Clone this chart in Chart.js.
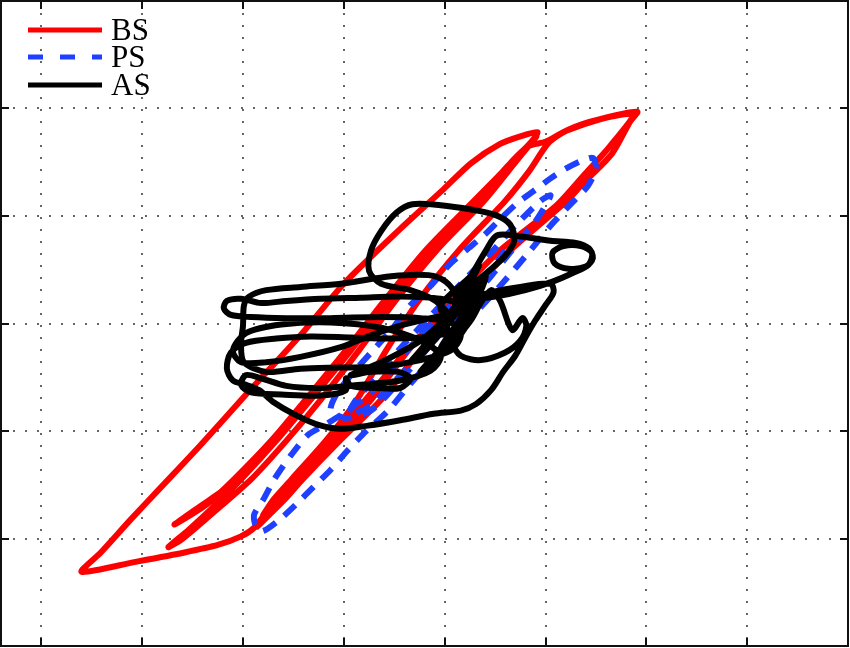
<!DOCTYPE html>
<html>
<head>
<meta charset="utf-8">
<script src="https://cdn.jsdelivr.net/npm/chart.js@4/dist/chart.umd.min.js"></script>
<style>
    html, body { margin: 0; padding: 0; background: #fff; }
    #wrap { position: relative; width: 850px; height: 648px; }
    .leg { position: absolute; left: 28px; height: 30px; line-height: 30px; white-space: nowrap;
           font-family: "Liberation Serif", "DejaVu Serif", serif; font-size: 31px; color: #000; }
    .leg svg { position: absolute; left: 0; top: 12px; }
    .leg span { position: absolute; left: 83px; top: 0; }
</style>
</head>
<body>
<div id="wrap">
    <canvas id="chart" width="850" height="648"></canvas>
    <div class="leg" style="top:15px">
        <svg width="76" height="6"><line x1="0" y1="3" x2="74" y2="3" stroke="#ff0000" stroke-width="5"/></svg>
        <span>BS</span>
    </div>
    <div class="leg" style="top:42px">
        <svg width="76" height="6"><line x1="0" y1="3" x2="74" y2="3" stroke="#2040ff" stroke-width="5" stroke-dasharray="15 17"/></svg>
        <span>PS</span>
    </div>
    <div class="leg" style="top:70px">
        <svg width="76" height="6"><line x1="0" y1="3" x2="74" y2="3" stroke="#000" stroke-width="5"/></svg>
        <span>AS</span>
    </div>
</div>
<script>

/* =======================
   DATA
======================= */

const xTicks = [-4, -3, -2, -1, 0, 1, 2, 3];
const yTicks = [-2, -1, 0, 1, 2];

// BS
const bsX = [
    -0.04, -0.44, -0.83, -1.13, -1.43, -1.62, -1.75, -1.89, -2.02, -2.25, -2.58, -3.08, -3.60,
    -3.41, -3.11, -2.81, -2.42, -1.95, -1.43, -1.00, -0.44, -0.01, 0.26, 0.55, 0.75, 0.92,
    0.85, 0.67, 0.34, -0.14, -0.55, -0.93, -1.33, -1.66, -2.02, -2.32, -2.54, -2.74,
    -2.61, -2.37, -1.92, -1.56, -1.23, -0.85, -0.49, -0.08, 0.39, 0.71, 0.91,
    0.77, 0.29, -0.19, -0.60, -0.98, -1.38, -1.71, -2.09, -2.37, -2.68,
    -2.47, -2.05, -1.68, -1.35, -0.95, -0.57, -0.16, 0.32, 0.62, 0.83, 1.00, 1.20, 1.54, 1.91,
    1.84, 1.66, 1.37, 1.21, 0.65, 0.18, -0.24, -0.63, -1.03, -1.41, -1.57, -1.74, -1.86,
    -1.72, -1.48, -1.09, -0.73, -0.36, 0.06, 0.55, 1.10, 1.40, 1.64, 1.86,
    1.54, 1.22, 1.03, 0.84, 0.60, 0.14, -0.26, -0.58, -0.87, -1.17, -1.52, -1.70, -1.80
];
const bsY = [
    0.07, -0.32, -0.76, -1.06, -1.36, -1.57, -1.73, -1.90, -1.98, -2.06, -2.13, -2.22, -2.31,
    -2.13, -1.82, -1.52, -1.13, -0.64, -0.11, 0.37, 0.88, 1.25, 1.49, 1.67, 1.74, 1.78,
    1.68, 1.51, 1.14, 0.68, 0.21, -0.25, -0.71, -1.08, -1.45, -1.73, -1.92, -2.08,
    -2.01, -1.82, -1.45, -1.08, -0.71, -0.25, 0.21, 0.68, 1.14, 1.51, 1.74,
    1.60, 1.14, 0.68, 0.21, -0.25, -0.71, -1.08, -1.45, -1.69, -1.87,
    -1.73, -1.45, -1.08, -0.71, -0.25, 0.21, 0.68, 1.14, 1.46, 1.65, 1.69, 1.79, 1.90, 1.97,
    1.88, 1.58, 1.30, 1.14, 0.68, 0.21, -0.25, -0.71, -1.08, -1.45, -1.62, -1.78, -1.89,
    -1.75, -1.45, -1.08, -0.71, -0.25, 0.21, 0.68, 1.09, 1.40, 1.65, 1.94,
    1.90, 1.80, 1.68, 1.42, 1.14, 0.68, 0.21, -0.25, -0.71, -1.08, -1.45, -1.64, -1.78
];

// PS
const psX = [
    0.06, -0.24, -0.49, -0.73, -0.98, -1.18, -1.36, -1.52, -1.69, -1.80, -1.89, -1.87, -1.80,
    -1.62, -1.46, -1.30, -1.13, -0.96, -0.80, -0.56, -0.34, -0.04, 0.26, 0.55, 0.85, 1.05, 1.25, 1.42, 1.50, 1.47,
    1.35, 1.20, 1.05, 0.85, 0.72, 0.55, 0.39, 0.21, 0.06, -0.14, -0.34, -0.53, -0.73, -0.93, -1.08, -1.13,
    -0.98, -0.73, -0.44, -0.14, 0.16, 0.46, 0.70, 0.90, 1.05,
    0.95, 0.70, 0.46, 0.16, -0.14, -0.44, -0.68, -0.88, -0.95,
    -0.73, -0.44, -0.14, 0.16, 0.41, 0.60
];
const psY = [
    0.17, -0.11, -0.39, -0.64, -0.82, -0.94, -1.04, -1.22, -1.45, -1.64, -1.78, -1.89, -1.93,
    -1.81, -1.67, -1.52, -1.36, -1.18, -1.02, -0.81, -0.56, -0.25, 0.05, 0.35, 0.68, 0.91, 1.11, 1.28, 1.44, 1.54,
    1.51, 1.44, 1.35, 1.21, 1.12, 0.97, 0.82, 0.68, 0.56, 0.35, 0.17, -0.06, -0.27, -0.48, -0.67, -0.81,
    -0.88, -0.81, -0.53, -0.20, 0.12, 0.44, 0.72, 0.95, 1.19,
    1.14, 0.91, 0.66, 0.37, 0.07, -0.23, -0.51, -0.71, -0.85,
    -0.76, -0.48, -0.18, 0.17, 0.44, 0.68
];

// AS
const asX = [
    0.06, -0.09, -0.34, -0.63, -0.75, -0.73, -0.63, -0.48, -0.32, -0.04, 0.26, 0.50, 0.65, 0.69, 0.60, 0.44, 0.26, 0.11,
    0.26, 0.41, 0.52, 0.75, 1.05, 1.30, 1.43, 1.47, 1.40, 1.23, 1.09, 1.07, 1.18, 1.35, 1.46, 1.43, 1.27, 1.07, 0.80, 0.50, 0.26, 0.46, 0.75, 1.05,
    1.08, 1.00, 0.90, 0.80, 0.70, 0.58, 0.46, 0.31, 0.16, -0.11, -0.44, -0.76, -1.03, -1.26, -1.50, -1.70, -1.84,
    -1.97, -2.10, -2.16, -2.12, -1.97, -1.67, -1.33, -0.93, -0.53, -0.14, 0.11,
    0.26, 0.16, -0.04, -0.44, -0.83, -1.23, -1.57, -1.82, -2.02, -2.16, -2.19, -2.12, -1.92, -1.57, -1.13, -0.63, -0.24, 0.06,
    0.16, 0.06, -0.24, -0.63, -1.03, -1.43, -1.77, -1.99, -2.02, -2.00, -1.99, -1.94, -1.77, -1.43, -1.03, -0.53, -0.16, 0.01, 0.11,
    0.06, -0.14, -0.44, -0.73, -1.03, -1.43, -1.77, -2.02, -2.10, -1.97, -1.62, -1.13, -0.63, -0.24, -0.04, -0.14, -0.44, -0.83, -1.23, -1.57, -1.82, -1.97, -2.02, -1.92, -1.62, -1.23, -0.98,
    -0.98, -0.93, -0.68, -0.44, -0.34, -0.46, -0.73, -0.93, -0.63, -0.24, 0.01, 0.21, 0.36, 0.26, 0.11, -0.04, 0.11, 0.31, 0.46, 0.55, 0.67, 0.77, 0.81, 0.75, 0.60, 0.36, 0.16, 0.06, 0.01, -0.04,
    0.26, 0.34, 0.21, -0.04, -0.24, -0.34, -0.19, 0.06, 0.26, 0.41, 0.31, 0.11, -0.14, -0.24, -0.04, 0.21, 0.36, 0.26, 0.06
];
const asY = [
    0.07, 0.21, 0.31, 0.37, 0.49, 0.68, 0.86, 1.03, 1.11, 1.10, 1.06, 1.01, 0.92, 0.77, 0.63, 0.49, 0.35, 0.21,
    0.44, 0.68, 0.82, 0.81, 0.77, 0.75, 0.70, 0.61, 0.53, 0.51, 0.56, 0.66, 0.72, 0.72, 0.66, 0.55, 0.47, 0.39, 0.31, 0.25, 0.23, 0.29, 0.34, 0.37,
    0.29, 0.17, 0.03, -0.13, -0.30, -0.45, -0.62, -0.75, -0.81, -0.84, -0.90, -0.95, -0.98, -0.94, -0.84, -0.73, -0.62,
    -0.57, -0.53, -0.42, -0.27, -0.18, -0.14, -0.12, -0.13, -0.14, -0.12, -0.06,
    0.05, 0.17, 0.23, 0.25, 0.24, 0.23, 0.21, 0.19, 0.23, 0.21, 0.14, 0.08, 0.06, 0.05, 0.05, 0.06, 0.05, 0.01,
    -0.11, -0.25, -0.34, -0.40, -0.41, -0.42, -0.45, -0.36, -0.20, -0.02, 0.17, 0.25, 0.31, 0.34, 0.37, 0.44, 0.45, 0.39, 0.26,
    0.10, 0.05, -0.02, -0.11, -0.22, -0.31, -0.36, -0.36, -0.25, -0.09, -0.01, 0.01, -0.04, -0.16, -0.30, -0.44, -0.53, -0.57, -0.60, -0.58, -0.51, -0.48, -0.57, -0.64, -0.66, -0.67, -0.62,
    -0.51, -0.58, -0.60, -0.60, -0.51, -0.45, -0.45, -0.48, -0.36, -0.16, 0.05, 0.26, 0.42, 0.21, -0.02, -0.23, -0.16, 0.12, 0.31, 0.21, -0.06, 0.05, -0.02, -0.16, -0.27, -0.34, -0.30, -0.16, 0.03, 0.17,
    0.44, 0.54, 0.31, -0.02, -0.25, -0.36, -0.25, 0.03, 0.26, 0.44, 0.21, -0.06, -0.34, -0.45, -0.30, -0.02, 0.21, 0.03, -0.20
];

function points(xs, ys) {
    return xs.map((x, i) => ({ x, y: ys[i] }));
}

/* =======================
   FRAME + INNER TICKS
======================= */

const innerTicks = {
    id: "innerTicks",
    afterDraw(chart) {
        const { ctx, chartArea: a, scales: { x, y } } = chart;
        ctx.save();
        ctx.strokeStyle = "#111";
        ctx.lineWidth = 2;
        ctx.beginPath();
        xTicks.forEach(v => {
            const px = Math.round(x.getPixelForValue(v));
            ctx.moveTo(px, a.top);
            ctx.lineTo(px, a.top + 8);
            ctx.moveTo(px, a.bottom);
            ctx.lineTo(px, a.bottom - 8);
        });
        yTicks.forEach(v => {
            const py = Math.round(y.getPixelForValue(v));
            ctx.moveTo(a.left, py);
            ctx.lineTo(a.left + 8, py);
            ctx.moveTo(a.right, py);
            ctx.lineTo(a.right - 8, py);
        });
        ctx.stroke();
        ctx.strokeRect(a.left, a.top, a.right - a.left, a.bottom - a.top);
        ctx.restore();
    }
};

const gridOpts = { color: "#666", lineWidth: 2, drawTicks: false };
const borderOpts = { display: false, dash: [2, 10] };

new Chart(document.getElementById("chart"), {
    type: "scatter",
    data: {
        datasets: [
            {
                label: "BS",
                data: points(bsX, bsY),
                showLine: true,
                borderColor: "#ff0000",
                borderWidth: 6,
                pointRadius: 0,
                tension: 0.25,
                borderJoinStyle: "round",
                borderCapStyle: "round",
                order: 3
            },
            {
                label: "PS",
                data: points(psX, psY),
                showLine: true,
                borderColor: "#2040ff",
                borderWidth: 6,
                borderDash: [15, 11],
                pointRadius: 0,
                tension: 0.25,
                borderJoinStyle: "round",
                order: 2
            },
            {
                label: "AS",
                data: points(asX, asY),
                showLine: true,
                borderColor: "#000000",
                borderWidth: 6,
                pointRadius: 0,
                tension: 0.3,
                borderJoinStyle: "round",
                borderCapStyle: "round",
                order: 1
            }
        ]
    },
    options: {
        responsive: false,
        animation: false,
        layout: { padding: { left: 1, top: 1, right: 2, bottom: 2 } },
        plugins: {
            legend: { display: false },
            tooltip: { enabled: false }
        },
        scales: {
            x: {
                type: "linear",
                min: -4.4,
                max: 4,
                afterBuildTicks: s => { s.ticks = xTicks.map(v => ({ value: v })); },
                ticks: { display: false },
                grid: gridOpts,
                border: borderOpts
            },
            y: {
                type: "linear",
                min: -3,
                max: 3,
                afterBuildTicks: s => { s.ticks = yTicks.map(v => ({ value: v })); },
                ticks: { display: false },
                grid: gridOpts,
                border: borderOpts
            }
        }
    },
    plugins: [innerTicks]
});
</script>
</body>
</html>
